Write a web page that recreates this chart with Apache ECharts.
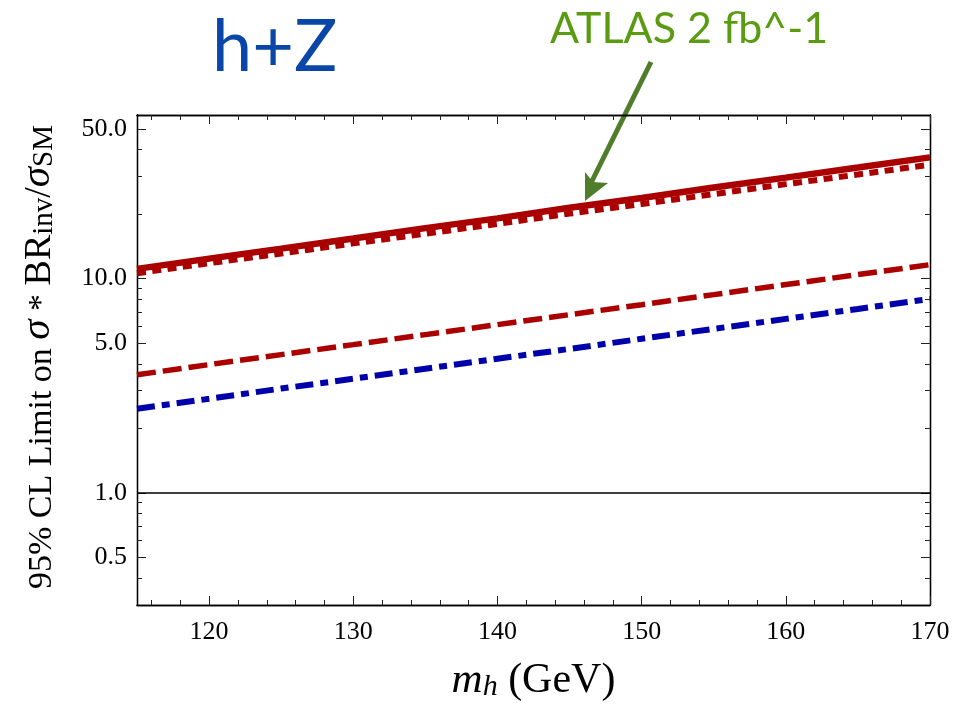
<!DOCTYPE html>
<html><head><meta charset="utf-8">
<script src="https://cdn.jsdelivr.net/npm/echarts@6/dist/echarts.min.js"></script>
<style>html,body{margin:0;padding:0;background:#fff}#c{width:970px;height:704px}</style>
</head><body><div id="c"></div>
<script>
// ---- data ----
const massGeV = [115,120,125,130,135,140,145,150,155,160,165,170];
const limitSolid   = [11.1,12.4,13.8,15.4,17.2,19.1,21.4,23.8,26.6,29.6,33.0,36.8];
const limitDotted  = [10.6,11.8,13.1,14.6,16.2,18.0,20.1,22.3,24.8,27.6,30.6,34.0];
const limitDashed  = [3.56,3.97,4.42,4.92,5.48,6.10,6.79,7.56,8.42,9.38,10.44,11.62];
const limitDashDot = [2.47,2.75,3.07,3.41,3.80,4.23,4.70,5.24,5.83,6.49,7.22,8.04];
const referenceLevel = 1;
const xTickLabels = [120,130,140,150,160,170];
const xMinorTicks = [116,118,122,124,126,128,132,134,136,138,142,144,146,148,152,154,156,158,162,164,166,168];
const yTickLabels = [0.5,1,5,10,50];
const yMinorTicks = [0.4,0.6,0.7,0.8,0.9,2,3,4,6,7,8,9,20,30,40];

const serif = "'Liberation Serif','Times New Roman',serif";
const X_MIN = 115, X_MAX = 170, Y_MIN = 0.3, Y_MAX = 58;

function xAxisDef(pos, ticks, len, labels) {
  return {
    type: 'value', min: X_MIN, max: X_MAX, position: pos,
    axisLine: {show: true, onZero: false, lineStyle: {color: '#000', width: 1.3}},
    axisTick: {show: true, inside: true, length: len, customValues: ticks, lineStyle: {color: '#222', width: 1}},
    axisLabel: labels ? {show: true, customValues: ticks, formatter: v => String(v), color: '#000',
      fontFamily: serif, fontSize: 26, margin: 14} : {show: false},
    splitLine: {show: false}, minorTick: {show: false}
  };
}
function yAxisDef(pos, ticks, len, labels) {
  return {
    type: 'log', logBase: 10, min: Y_MIN, max: Y_MAX, position: pos,
    axisLine: {show: true, onZero: false, lineStyle: {color: '#000', width: 1.3}},
    axisTick: {show: true, inside: true, length: len, customValues: ticks, lineStyle: {color: '#222', width: 1}},
    axisLabel: labels ? {show: true, customValues: ticks, formatter: v => Number(v).toFixed(1), color: '#000',
      fontFamily: serif, fontSize: 26, margin: 10} : {show: false},
    splitLine: {show: false}, minorTick: {show: false}
  };
}

const xAxes = [
  xAxisDef('bottom', xTickLabels, 9, true),
  xAxisDef('top', xTickLabels, 9, false),
  xAxisDef('bottom', xMinorTicks, 5, false),
  xAxisDef('top', xMinorTicks, 5, false)
];
xAxes[0].name = '{i|m}{si|h}{n| (GeV)}';
xAxes[0].nameLocation = 'middle';
xAxes[0].nameGap = 47;
xAxes[0].nameTextStyle = {
  color: '#000', fontFamily: serif, fontSize: 42,
  rich: {
    i: {fontFamily: serif, fontStyle: 'italic', fontSize: 43, color: '#000', lineHeight: 50, verticalAlign: 'bottom'},
    si: {fontFamily: serif, fontStyle: 'italic', fontSize: 30, color: '#000', lineHeight: 30, verticalAlign: 'bottom'},
    n: {fontFamily: serif, fontSize: 42, color: '#000', lineHeight: 50, verticalAlign: 'bottom'}
  }
};

const yAxes = [
  yAxisDef('left', yTickLabels, 9, true),
  yAxisDef('right', yTickLabels, 9, false),
  yAxisDef('left', yMinorTicks, 5, false),
  yAxisDef('right', yMinorTicks, 5, false)
];
yAxes[0].name = '{n|95% CL Limit on }{i|σ}{a| * }{b|BR}{s|inv}{b|/}{i|σ}{s|SM}';
yAxes[0].nameLocation = 'middle';
yAxes[0].nameRotate = 90;
yAxes[0].nameGap = 78;
yAxes[0].nameTextStyle = {
  color: '#000', fontFamily: serif, fontSize: 34, padding: [0, 0, 0, 6],
  rich: {
    n: {fontFamily: serif, fontSize: 34, color: '#000', lineHeight: 45, verticalAlign: 'bottom'},
    a: {fontFamily: serif, fontSize: 34, color: '#000', lineHeight: 45, verticalAlign: 'bottom'},
    b: {fontFamily: serif, fontSize: 38, color: '#000', lineHeight: 45, verticalAlign: 'bottom'},
    i: {fontFamily: serif, fontStyle: 'italic', fontSize: 41, color: '#000', lineHeight: 45, verticalAlign: 'bottom'},
    s: {fontFamily: serif, fontSize: 29, color: '#000', lineHeight: 29, verticalAlign: 'bottom'}
  }
};

function pairs(vals) { return massGeV.map((m, i) => [m, vals[i]]); }

const green = '#4f7d2b';
const option = {
  backgroundColor: '#fff',
  animation: false,
  grid: {left: 137, right: 40, top: 115, bottom: 99, containLabel: false, outerBoundsMode: 'none'},
  xAxis: xAxes,
  yAxis: yAxes,
  graphic: [
    {type: 'text', left: 212, top: 12, style: {text: 'h+Z', font: "72px Lato", fill: '#0a46a8'}},
    {type: 'text', left: 550, top: 8, style: {text: 'ATLAS 2 fb^-1', font: "43px Lato", fill: '#5b9b12'}},
    {type: 'line', shape: {x1: 651, y1: 62, x2: 591, y2: 183}, style: {stroke: green, lineWidth: 5}},
    {type: 'polygon', shape: {points: [[585, 201], [585, 172], [593, 182], [608, 183]]}, style: {fill: green}}
  ],
  series: [
    {type: 'line', name: 'dotted', data: pairs(limitDotted), symbol: 'none', z: 3,
      lineStyle: {color: '#aa0000', width: 6, type: [9, 6.4]}},
    {type: 'line', name: 'solid', data: pairs(limitSolid), symbol: 'none', z: 4,
      lineStyle: {color: '#aa0000', width: 6.5, type: 'solid'},
      markLine: {silent: true, symbol: 'none', label: {show: false},
        lineStyle: {color: '#000', width: 1.5, type: 'solid'},
        data: [{yAxis: referenceLevel}]}},
    {type: 'line', name: 'dashed', data: pairs(limitDashed), symbol: 'none', z: 3,
      lineStyle: {color: '#aa0000', width: 5.5, type: [19, 7]}},
    {type: 'line', name: 'dashdot', data: pairs(limitDashDot), symbol: 'none', z: 3,
      lineStyle: {color: '#0000aa', width: 6, type: [18, 7, 8, 7]}}
  ]
};
const chart = echarts.init(document.getElementById('c'), null, {renderer: 'canvas'});
chart.setOption(option);
</script>
</body></html>
